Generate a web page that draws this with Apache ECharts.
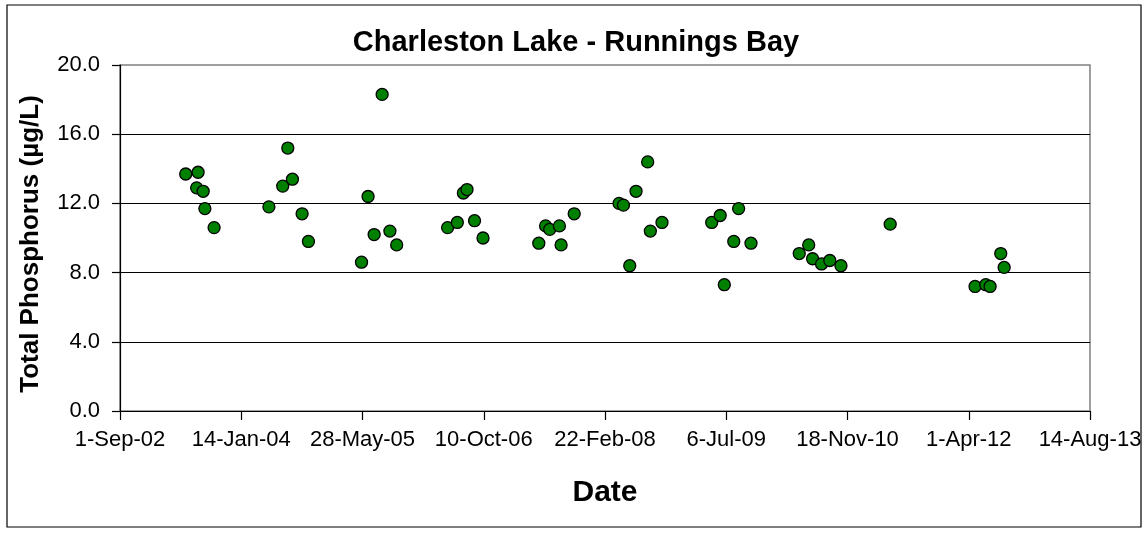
<!DOCTYPE html>
<html>
<head>
<meta charset="utf-8">
<script src="https://cdn.jsdelivr.net/npm/echarts@6/dist/echarts.min.js"></script>
<style>
  html, body { margin: 0; padding: 0; background: #fff; }
  #chart { width: 1148px; height: 535px; }
</style>
</head>
<body>
<div id="chart"></div>
<script>
// Total phosphorus samples, Charleston Lake - Runnings Bay
const sampleDates = [
  '2003-05-30', '2003-07-14', '2003-07-20', '2003-08-10', '2003-08-17', '2003-09-24',
  '2004-05-07', '2004-07-03', '2004-07-24', '2004-08-12', '2004-09-21', '2004-10-17',
  '2005-05-24', '2005-06-20', '2005-07-15', '2005-08-17', '2005-09-18', '2005-10-16',
  '2006-05-14', '2006-06-23', '2006-07-18', '2006-08-02', '2006-09-02', '2006-10-07',
  '2007-05-25', '2007-06-22', '2007-07-09', '2007-08-18', '2007-08-25', '2007-10-18',
  '2008-04-20', '2008-05-08', '2008-06-03', '2008-06-29', '2008-08-16', '2008-08-27', '2008-10-14',
  '2009-05-07', '2009-06-11', '2009-06-28', '2009-08-06', '2009-08-26', '2009-10-16',
  '2010-05-03', '2010-06-11', '2010-06-27', '2010-08-03', '2010-09-06', '2010-10-22',
  '2011-05-13',
  '2012-04-27', '2012-06-10', '2012-06-28', '2012-08-11', '2012-08-25'
];
const phosphorus = [
  13.7, 12.9, 13.8, 12.7, 11.7, 10.6,
  11.8, 13.0, 15.2, 13.4, 11.4, 9.8,
  8.6, 12.4, 10.2, 18.3, 10.4, 9.6,
  10.6, 10.9, 12.6, 12.8, 11.0, 10.0,
  9.7, 10.7, 10.5, 10.7, 9.6, 11.4,
  12.0, 11.9, 8.4, 12.7, 14.4, 10.4, 10.9,
  10.9, 11.3, 7.3, 9.8, 11.7, 9.7,
  9.1, 9.6, 8.8, 8.5, 8.7, 8.4,
  10.8,
  7.2, 7.3, 7.2, 9.1, 8.3
];

// Axis settings (date axis in spreadsheet serial days: 37500 = 1-Sep-02)
const xMin = 37500, xMax = 41500, xStep = 500;
const yMin = 0, yMax = 20, yStep = 4;

const MONTHS = ['Jan','Feb','Mar','Apr','May','Jun','Jul','Aug','Sep','Oct','Nov','Dec'];
const EPOCH = Date.UTC(1899, 11, 30);
const DAY = 86400000;

function toSerial(iso) {
  const [y, m, d] = iso.split('-').map(Number);
  return Math.round((Date.UTC(y, m - 1, d) - EPOCH) / DAY);
}
function serialLabel(v) {
  const dt = new Date(EPOCH + v * DAY);
  const yy = String(dt.getUTCFullYear() % 100).padStart(2, '0');
  return dt.getUTCDate() + '-' + MONTHS[dt.getUTCMonth()] + '-' + yy;
}

const points = sampleDates.map((d, i) => [toSerial(d), phosphorus[i]]);

const FONT = 'Liberation Sans, Arial, sans-serif';
const chart = echarts.init(document.getElementById('chart'), null, { renderer: 'canvas' });

chart.setOption({
  backgroundColor: '#fff',
  animation: false,
  title: {
    text: 'Charleston Lake - Runnings Bay',
    left: 571,
    top: 23,
    textAlign: 'center',
    textStyle: { fontFamily: FONT, fontWeight: 'bold', fontSize: 29, color: '#000' }
  },
  graphic: [{
    type: 'rect',
    shape: { x: 7, y: 5, width: 1134, height: 522 },
    style: { fill: 'none', stroke: '#000', lineWidth: 1.2 },
    silent: true,
    z: -1
  }],
  grid: {
    left: 120, right: 58, top: 65, bottom: 124,
    show: true, borderColor: '#808080', borderWidth: 1.5, backgroundColor: '#fff'
  },
  xAxis: {
    type: 'value',
    min: xMin, max: xMax, interval: xStep,
    name: 'Date',
    nameLocation: 'middle',
    nameGap: 67,
    nameTextStyle: { fontFamily: FONT, fontWeight: 'bold', fontSize: 30, color: '#000' },
    axisLine: { show: true, onZero: false, lineStyle: { color: '#000', width: 1.2 } },
    axisTick: { show: true, inside: false, length: 9, lineStyle: { color: '#000', width: 1.2 } },
    axisLabel: {
      margin: 18,
      fontFamily: FONT, fontSize: 22, color: '#000',
      formatter: serialLabel,
      showMinLabel: true, showMaxLabel: true
    },
    splitLine: { show: false }
  },
  yAxis: {
    type: 'value',
    min: yMin, max: yMax, interval: yStep,
    name: 'Total Phosphorus (µg/L)',
    nameLocation: 'middle',
    nameGap: 76,
    nameTextStyle: {
      fontFamily: FONT, fontWeight: 'bold', fontSize: 26, color: '#000',
      padding: [0, 12, 0, 0]
    },
    axisLine: { show: true, lineStyle: { color: '#000', width: 1.2 } },
    axisTick: { show: true, inside: false, length: 8, lineStyle: { color: '#000', width: 1.2 } },
    axisLabel: {
      margin: 20,
      fontFamily: FONT, fontSize: 22, color: '#000',
      formatter: v => v.toFixed(1)
    },
    splitLine: { show: true, showMinLine: false, showMaxLine: false, lineStyle: { color: '#000', width: 1.2 } }
  },
  series: [{
    type: 'scatter',
    data: points,
    symbol: 'circle',
    symbolSize: 12,
    itemStyle: { color: '#008000', opacity: 1, borderColor: '#000', borderWidth: 1.3 },
    z: 5
  }]
});
</script>
</body>
</html>
